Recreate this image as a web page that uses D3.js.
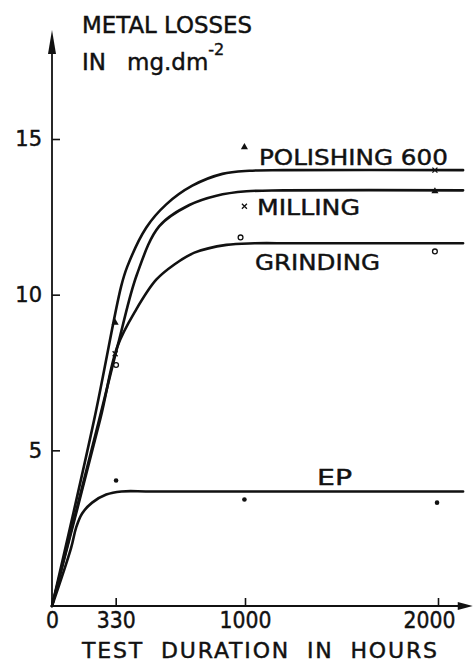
<!DOCTYPE html>
<html>
<head>
<meta charset="utf-8">
<script src="https://cdn.jsdelivr.net/npm/d3@7"></script>
<style>
	body { margin: 0; background: #fff; }
	svg text { font-family: 'DejaVu Sans', sans-serif; fill: #111; stroke: #111; stroke-width: 0.45; }
</style>
</head>
<body>
<svg id="chart" width="473" height="664"></svg>
<script>
// hours / metal loss (mg.dm-2)
var xTicks = [0, 330, 1000, 2000];
var yTicks = [5, 10, 15];

var polishingCurve = [[0, 0], [218, 5.97], [358, 10.26], [390, 10.9], [488, 12.15], [592, 12.9], [727, 13.5], [883, 13.88], [1023, 13.98], [1200, 14.0], [2130, 14.0]];
var millingCurve = [[0, 0], [244, 5.97], [348, 8.55], [440, 10.65], [556, 12.2], [712, 12.88], [852, 13.18], [1008, 13.32], [1200, 13.35], [2130, 13.35]];
var grindingCurve = [[0, 0], [250, 6.0], [338, 8.32], [436, 9.52], [540, 10.48], [634, 10.97], [738, 11.35], [904, 11.6], [1050, 11.65], [1250, 11.65], [2130, 11.65]];
var epCurve = [[0, 0], [99, 1.87], [125, 2.52], [156, 2.97], [208, 3.32], [281, 3.58], [360, 3.68], [520, 3.68], [2130, 3.68]];

var polishingPts = [[327, 9.1], [997, 14.74], [1984, 13.32]];
var millingPts = [[327, 8.1], [997, 12.84], [1984, 14.0]];
var grindingPts = [[332, 7.74], [977, 11.84], [1984, 11.39]];
var epPts = [[332, 4.03], [997, 3.42], [1995, 3.32]];

var seriesNames = ['POLISHING 600', 'MILLING', 'GRINDING', 'EP'];

(function(d3) {
	'use strict';

	var svg = d3.select('#chart');
	var x = d3.scaleLinear().domain([0, 2000]).range([52, 438]);
	var y = d3.scaleLinear().domain([0, 15]).range([606, 139]);
	var xEnd = 2180, yEnd = 18.5;

	/** axes */
	var renderAxes = function() {
		var gx = svg.append('g').attr('transform', 'translate(0,' + y(0) + ')')
			.call(d3.axisBottom(x).tickValues(xTicks).tickFormat(d3.format('d'))
				.tickSizeInner(-8).tickSizeOuter(0).tickPadding(6));
		gx.select('.domain').remove();
		gx.selectAll('line').attr('stroke', '#111').attr('stroke-width', 1.6);
		gx.selectAll('text').attr('font-size', 23).attr('fill', '#111')
			.attr('textLength', function(d) { return String(d).length * 13; })
			.attr('lengthAdjust', 'spacingAndGlyphs');
		gx.selectAll('.tick').filter(function(d) { return d === 2000; })
			.select('text').attr('dx', -9);

		var gy = svg.append('g').attr('transform', 'translate(' + x(0) + ',0)')
			.call(d3.axisLeft(y).tickValues(yTicks).tickSizeInner(-8).tickSizeOuter(0).tickPadding(10));
		gy.select('.domain').remove();
		gy.selectAll('line').attr('stroke', '#111').attr('stroke-width', 1.6);
		gy.selectAll('text').attr('font-size', 21).attr('fill', '#111');

		// axis lines with arrow heads
		svg.append('line').attr('x1', x(0)).attr('x2', x(xEnd) - 10).attr('y1', y(0)).attr('y2', y(0))
			.attr('stroke', '#111').attr('stroke-width', 1.8);
		svg.append('line').attr('x1', x(0)).attr('x2', x(0)).attr('y1', y(0)).attr('y2', y(yEnd) + 10)
			.attr('stroke', '#111').attr('stroke-width', 1.8);
		svg.append('path').attr('fill', '#111')
			.attr('d', 'M' + x(xEnd) + ',' + y(0) + 'l-15,-4l0,8z');
		svg.append('path').attr('fill', '#111')
			.attr('d', 'M' + x(0) + ',' + y(yEnd) + 'l-4,24l8,0z');
	};

	/** curves */
	var line = d3.line()
		.x(function(d) { return x(d[0]); })
		.y(function(d) { return y(d[1]); })
		.curve(d3.curveCatmullRom.alpha(0.5));

	var renderCurves = function() {
		[polishingCurve, millingCurve, grindingCurve, epCurve].forEach(function(c) {
			svg.append('path').datum(c).attr('d', line)
				.attr('fill', 'none').attr('stroke', '#111').attr('stroke-width', 2.6)
				.attr('stroke-linejoin', 'round').attr('stroke-linecap', 'round');
		});
	};

	/** measured points */
	var renderPoints = function() {
		var tri = d3.symbol().type(d3.symbolTriangle).size(22);
		svg.selectAll('.p-pol').data(polishingPts).enter().append('path')
			.attr('transform', function(d) { return 'translate(' + x(d[0]) + ',' + y(d[1]) + ')'; })
			.attr('d', tri).attr('fill', '#111');

		svg.selectAll('.p-mil').data(millingPts).enter().append('path')
			.attr('transform', function(d) { return 'translate(' + x(d[0]) + ',' + y(d[1]) + ')'; })
			.attr('d', 'M-2.5,-2.5L2.5,2.5M2.5,-2.5L-2.5,2.5')
			.attr('stroke', '#111').attr('stroke-width', 1.3);

		svg.selectAll('.p-gri').data(grindingPts).enter().append('circle')
			.attr('cx', function(d) { return x(d[0]); })
			.attr('cy', function(d) { return y(d[1]); })
			.attr('r', 2.4).attr('fill', '#fff').attr('stroke', '#111').attr('stroke-width', 1.3);

		svg.selectAll('.p-ep').data(epPts).enter().append('circle')
			.attr('cx', function(d) { return x(d[0]); })
			.attr('cy', function(d) { return y(d[1]); })
			.attr('r', 2.3).attr('fill', '#111');
	};

	/** texts */
	var renderLabels = function() {
		var at = [[1072, 14.17, 189], [1062, 12.56, 103], [1052, 10.79, 125], [1373, 3.89, 35]];
		seriesNames.forEach(function(name, i) {
			svg.append('text').attr('x', x(at[i][0])).attr('y', y(at[i][1]))
				.attr('font-size', 22).attr('textLength', at[i][2]).attr('lengthAdjust', 'spacingAndGlyphs')
				.text(name);
		});

		svg.append('text').attr('x', 82).attr('y', 33).attr('font-size', 23)
			.attr('textLength', 170).attr('lengthAdjust', 'spacingAndGlyphs').text('METAL LOSSES');
		var unit = svg.append('text').attr('y', 70).attr('font-size', 23);
		unit.append('tspan').attr('x', 82).text('IN');
		unit.append('tspan').attr('x', 127).text('mg.dm');
		unit.append('tspan').attr('dy', -15).attr('font-size', 16).text('-2');

		svg.append('text').attr('x', 82).attr('y', 658).attr('font-size', 22)
			.attr('textLength', 355).attr('lengthAdjust', 'spacing').attr('word-spacing', 8)
			.text('TEST DURATION  IN  HOURS');
	};

	renderAxes();
	renderCurves();
	renderPoints();
	renderLabels();
})(d3);
</script>
</body>
</html>
